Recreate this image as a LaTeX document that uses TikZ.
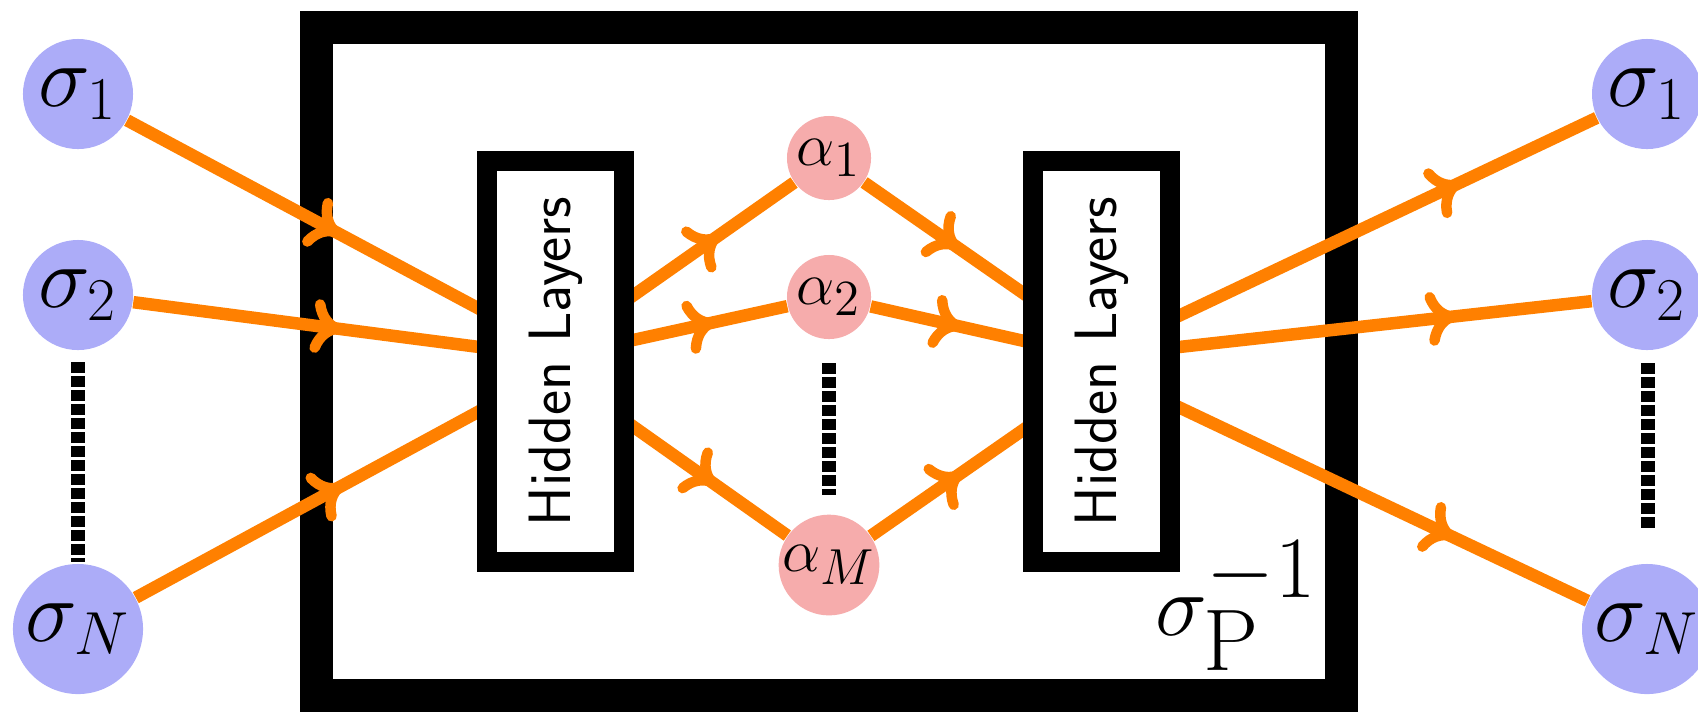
\documentclass[tikz,border=0pt]{standalone}
\usetikzlibrary{arrows.meta,decorations.markings}
\definecolor{sigblue}{RGB}{172,172,248}
\definecolor{alpink}{RGB}{246,172,172}
\definecolor{edgeor}{RGB}{255,128,0}
\tikzset{
  sig/.style={circle,fill=sigblue,inner sep=0pt,font=\fontsize{24}{28}\selectfont},
  alp/.style={circle,fill=alpink,inner sep=0pt,font=\fontsize{19}{22}\selectfont},
  netframe/.style={draw=black,line width=3.3mm,fill=white,inner sep=0pt},
  hlbox/.style={draw=black,line width=2mm,fill=white,inner sep=0pt,minimum width=1.37cm,minimum height=4.01cm},
  conn/.style={edgeor,line width=1.25mm,postaction={decorate},
    decoration={markings,mark=at position #1 with {\arrow{To[length=3mm,width=5.4mm,line width=1.05mm,round]}}}},
  conn/.default=0.55,
  dotline/.style={draw=black,line width=1.4mm,dash pattern=on 1.05mm off 0.35mm},
}
\newcommand{\hltxt}{\rotatebox{90}{\fontsize{17}{20}\selectfont\sffamily Hidden Layers}}
\begin{document}
\begin{tikzpicture}[x=0.01cm,y=-0.01cm]
\useasboundingbox (0,0) rectangle (1698,714);
\node[netframe,minimum width=10.25cm,minimum height=6.68cm] (net) at (829,361.5) {};
% sigma nodes
\node[sig,minimum size=1.1cm] (sL1) at (78,94) {$\sigma_1$};
\node[sig,minimum size=1.1cm] (sL2) at (78,295) {$\sigma_2$};
\node[sig,minimum size=1.3cm] (sLN) at (78,629) {$\sigma_N$};
\node[sig,minimum size=1.1cm] (sR1) at (1647,94) {$\sigma_1$};
\node[sig,minimum size=1.1cm] (sR2) at (1647,295) {$\sigma_2$};
\node[sig,minimum size=1.3cm] (sRN) at (1647,629) {$\sigma_N$};
% alpha nodes
\node[alp,minimum size=0.84cm] (a1) at (829,158) {$\alpha_1$};
\node[alp,minimum size=0.84cm] (a2) at (829,297) {$\alpha_2$};
\node[alp,minimum size=0.96cm] (aM) at (829,565) {$\alpha_M$};
% dotted lines
\draw[dotline] (78,362) -- (78,562);
\draw[dotline] (829,363) -- (829,495);
\draw[dotline] (1648,363) -- (1648,529);
% ports on hidden-layer boxes
\coordinate (iL1) at (487,313); \coordinate (iL2) at (487,348); \coordinate (iL3) at (487,407);
\coordinate (oL1) at (624,302); \coordinate (oL2) at (624,342); \coordinate (oL3) at (624,420);
\coordinate (iR1) at (1033,300); \coordinate (iR2) at (1033,343); \coordinate (iR3) at (1033,423);
\coordinate (oR1) at (1170,320); \coordinate (oR2) at (1170,348); \coordinate (oR3) at (1170,403);
% connectors
\draw[conn=0.59] (sL1) -- (iL1);
\draw[conn=0.59] (sL2) -- (iL2);
\draw[conn=0.59] (sLN) -- (iL3);
\draw[conn=0.56] (oL1) -- (a1);
\draw[conn=0.56] (oL2) -- (a2);
\draw[conn=0.56] (oL3) -- (aM);
\draw[conn=0.56] (a1) -- (iR1);
\draw[conn=0.56] (a2) -- (iR2);
\draw[conn=0.56] (aM) -- (iR3);
\draw[conn=0.68] (oR1) -- (sR1);
\draw[conn=0.68] (oR2) -- (sR2);
\draw[conn=0.68] (oR3) -- (sRN);
% hidden layer boxes
\node[hlbox] (hlL) at (555.5,361.5) {\hltxt};
\node[hlbox] (hlR) at (1101.5,361.5) {\hltxt};
% label
\node[font=\fontsize{33}{37}\selectfont,inner sep=0pt] (sp) at (1236,606) {$\sigma_{\mathrm{P}}^{-1}$};
\end{tikzpicture}
\end{document}
